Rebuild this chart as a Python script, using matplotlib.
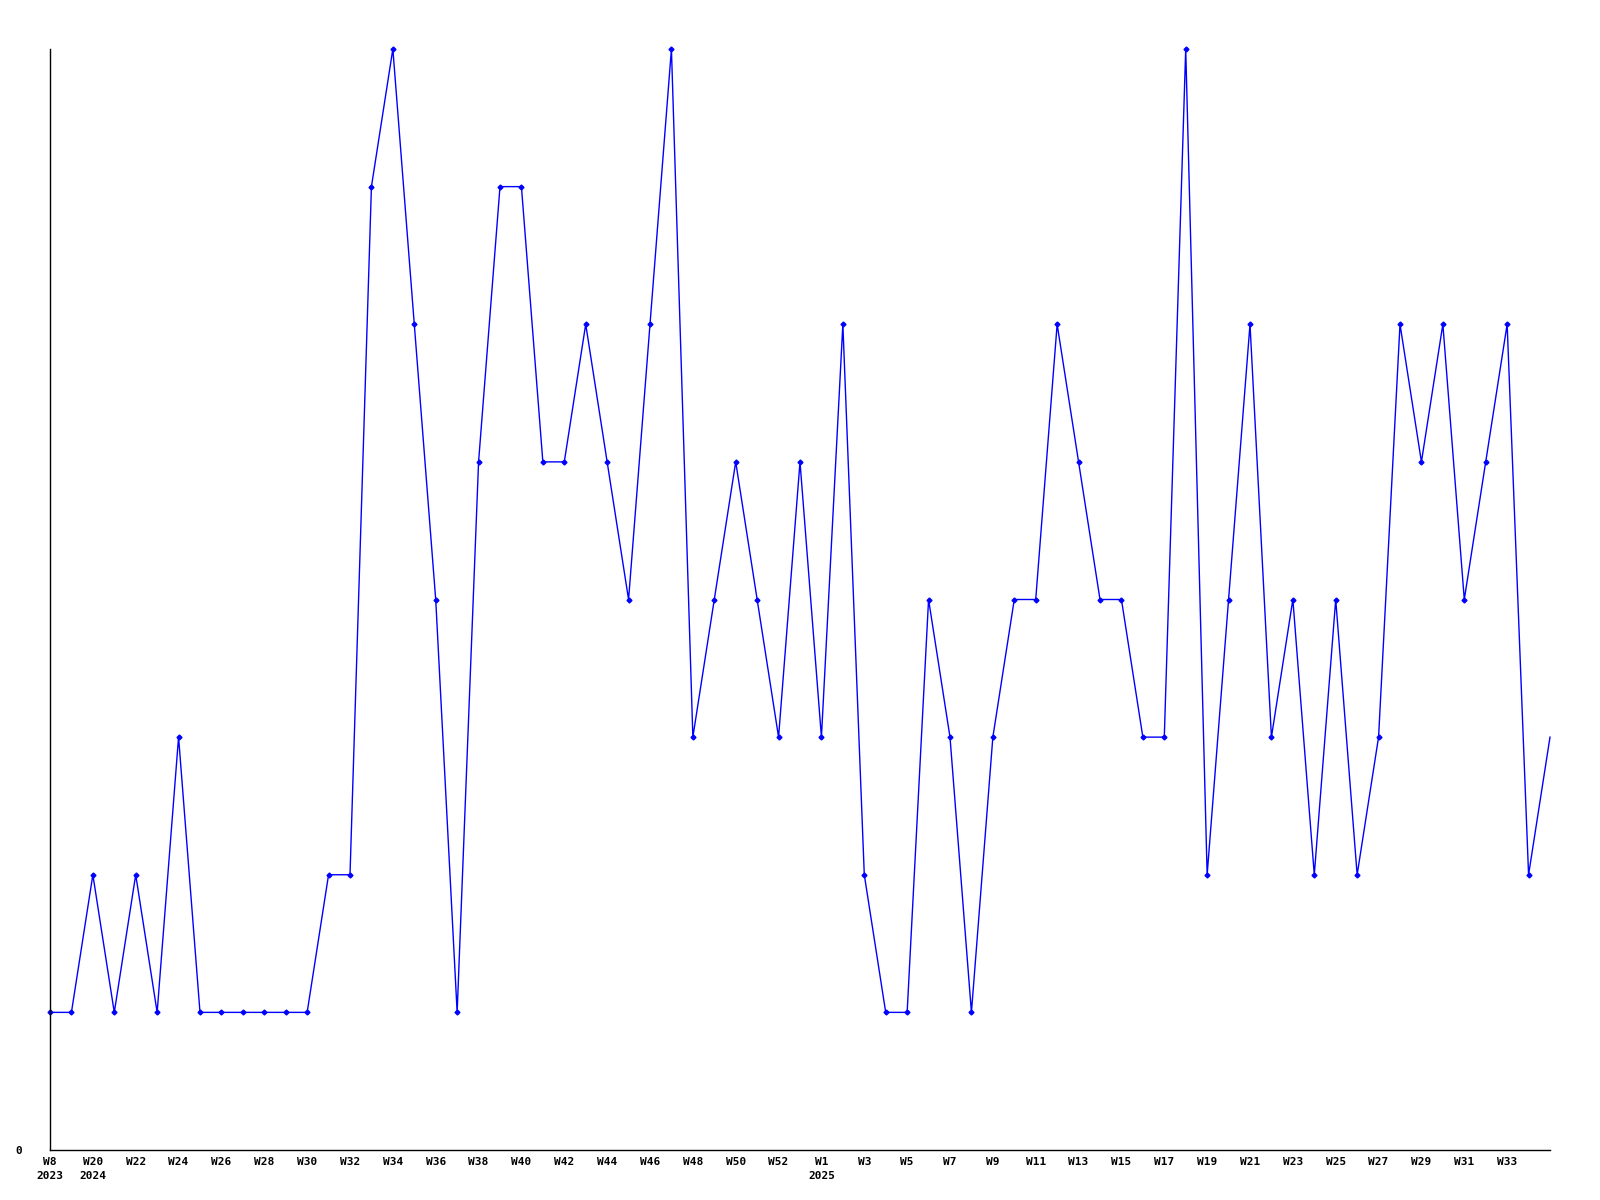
import matplotlib
matplotlib.use("Agg")
import matplotlib.pyplot as plt

# weekly values, one per point (71 weeks)
values = [1, 1, 2, 1, 2, 1, 3, 1, 1, 1, 1, 1, 1, 2, 2, 7, 8, 6, 4, 1,
          5, 7, 7, 5, 5, 6, 5, 4, 6, 8, 3, 4, 5, 4, 3, 5, 3, 6, 2, 1,
          1, 4, 3, 1, 3, 4, 4, 6, 5, 4, 4, 3, 3, 8, 2, 4, 6, 3, 4, 2,
          4, 2, 3, 6, 5, 6, 4, 5, 6, 2, 3]

# labels shown on every other point
tick_labels = (["W8\n2023"]
               + ["W20\n2024"] + ["W%d" % w for w in range(22, 53, 2)]
               + ["W1\n2025"] + ["W%d" % w for w in range(3, 34, 2)])

fig = plt.figure(figsize=(16, 12), dpi=100)
ax = fig.add_axes([50 / 1600, 1 - 1150 / 1200, 1500 / 1600, 1101 / 1200])

x = list(range(len(values)))
ax.plot(x, values, color="#0000ff", linewidth=1.0, marker="D", markersize=2.5,
        markevery=list(range(len(values) - 1)), clip_on=False)

ax.set_xlim(0, len(values) - 1)
ax.set_ylim(0, 8)

ax.set_xticks(range(0, len(values) - 1, 2))
ax.set_xticklabels(tick_labels, fontsize=8, family="DejaVu Sans Mono",
                   fontweight="bold", linespacing=1.55, va="top")
ax.set_yticks([0])
ax.set_yticklabels(["0"], fontsize=8, family="DejaVu Sans Mono", fontweight="bold")
ax.tick_params(axis="both", length=0)
ax.tick_params(axis="x", pad=5)
ax.tick_params(axis="y", pad=20)

for side in ["top", "right"]:
    ax.spines[side].set_visible(False)
for side in ["left", "bottom"]:
    ax.spines[side].set_color("black")
    ax.spines[side].set_linewidth(1.0)

fig.savefig("out.png", dpi=100)
